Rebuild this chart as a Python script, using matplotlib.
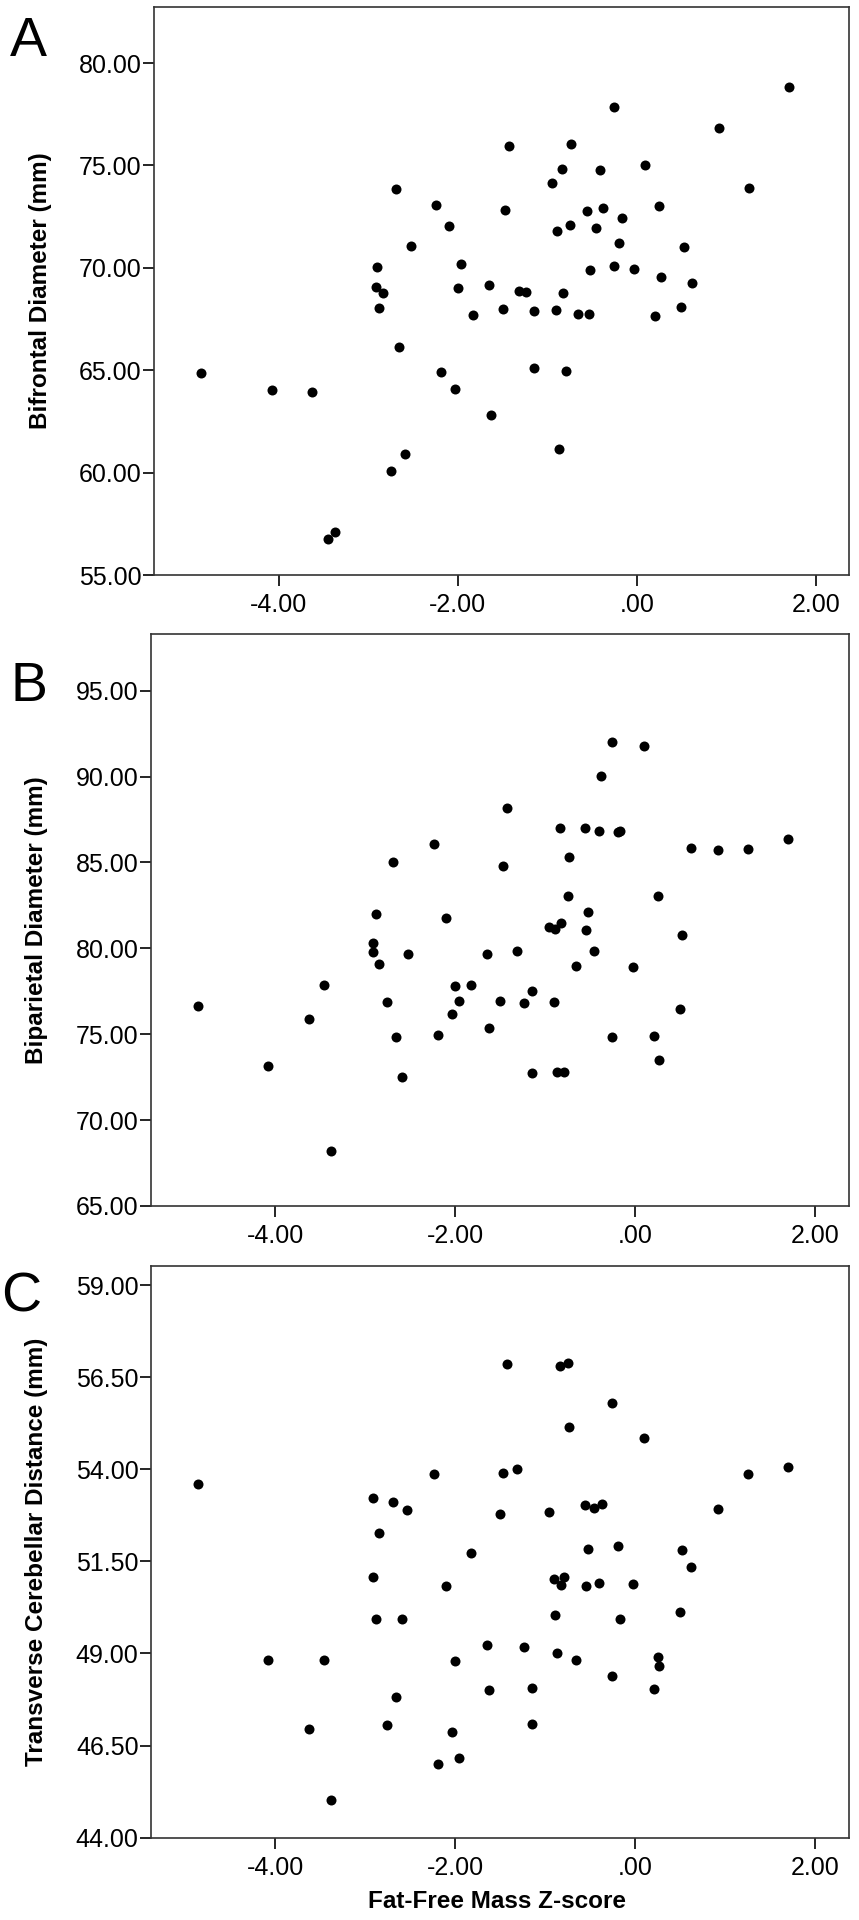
import matplotlib
matplotlib.use("Agg")
from matplotlib import pyplot as plt

plt.rcParams['font.family'] = ['Liberation Sans', 'DejaVu Sans']

# Panel A: fat-free mass z-score vs bifrontal diameter
a_x = [-2.693, -2.525, -2.905, -2.916, -2.838, -2.879, 1.702, -0.257, 0.923, -1.423,
       -0.737, -0.831, -0.410, 0.096, -0.950, 1.258, -2.242, -1.472, -0.555, -0.377,
       -0.168, 0.253, -2.097, -0.894, -0.745, -0.458, -0.194, 0.525, -1.963, -0.525,
       -0.257, -0.027, 0.268, 0.618, -2.000, -1.647, -1.312, -1.237, -0.827, -1.826,
       -1.497, -1.147, -0.902, -0.653, -0.536, 0.208, 0.495, -2.659, -4.860, -4.075,
       -3.628, -2.592, -2.745, -3.453, -3.374, -2.183, -2.030, -1.151, -0.790, -1.628,
       -0.865]
a_y = [73.83, 71.06, 70.04, 69.05, 68.77, 68.02, 78.84, 77.85, 76.81, 75.96,
       76.06, 74.82, 74.79, 75.03, 74.14, 73.88, 73.05, 72.81, 72.79, 72.93,
       72.43, 73.00, 72.04, 71.80, 72.10, 71.93, 71.20, 71.00, 70.17, 69.89,
       70.10, 69.94, 69.55, 69.26, 69.01, 69.17, 68.88, 68.80, 68.75, 67.68,
       67.99, 67.88, 67.95, 67.76, 67.76, 67.65, 68.07, 66.15, 64.88, 64.03,
       63.92, 60.91, 60.08, 56.77, 57.08, 64.93, 64.08, 65.09, 64.98, 62.83,
       61.14]

# Panel B: biparietal diameter
b_x = [-2.692, -2.884, -2.914, -2.907, -2.528, -0.256, 0.100, -0.374, -1.419, -0.830,
       -0.552, -0.404, -0.189, -0.162, 1.706, -2.239, 0.620, 0.928, 1.261, -0.734,
       -1.472, -0.745, 0.256, -2.098, -0.523, -0.960, -0.893, -0.823, -0.541, 0.527,
       -1.642, -1.308, -0.456, -2.843, -3.459, -4.861, -3.626, -2.751, -2.662, -4.075,
       -2.592, -3.377, -0.652, -0.026, -2.002, -1.824, -1.958, -1.497, -1.146, -1.238,
       -0.897, -2.031, 0.497, -2.184, -1.624, -0.256, 0.208, 0.271, -1.149, -0.868,
       -0.785]
b_y = [85.02, 82.00, 80.33, 79.78, 79.67, 92.03, 91.79, 90.01, 88.17, 87.02,
       87.02, 86.85, 86.79, 86.85, 86.34, 86.07, 85.86, 85.70, 85.80, 85.31,
       84.79, 83.04, 83.03, 81.78, 82.10, 81.24, 81.12, 81.46, 81.07, 80.76,
       79.67, 79.83, 79.84, 79.10, 77.85, 76.66, 75.88, 76.89, 74.85, 73.15,
       72.51, 68.18, 78.97, 78.89, 77.81, 77.88, 76.95, 76.95, 77.53, 76.82,
       76.86, 76.18, 76.47, 74.95, 75.34, 74.85, 74.88, 73.48, 72.72, 72.80,
       72.80]

# Panel C: transverse cerebellar distance
c_x = [-4.857, -2.907, -2.695, -2.532, -2.843, -2.914, -1.419, -0.830, -0.745, -0.256,
       -0.734, 0.100, -2.239, -1.472, -1.308, 1.261, 1.706, -1.497, -0.952, -0.552,
       -0.459, -0.370, 0.928, -1.824, -0.526, -0.192, 0.527, 0.620, -2.098, -0.901,
       -0.785, -0.823, -0.541, -0.404, -0.026, -2.884, -2.592, -4.078, -3.459, -2.662,
       -3.626, -2.751, -3.377, -0.893, -0.167, 0.497, -1.642, -1.238, -0.863, -0.652,
       -2.002, 0.256, 0.271, -0.256, -1.624, -1.146, 0.208, -1.149, -2.031, -1.958,
       -2.184]
c_y = [53.59, 53.22, 53.11, 52.90, 52.27, 51.09, 56.87, 56.80, 56.89, 55.81,
       55.15, 54.84, 53.87, 53.90, 54.00, 53.87, 54.07, 52.79, 52.85, 53.02,
       52.95, 53.06, 52.91, 51.73, 51.85, 51.93, 51.80, 51.36, 50.82, 51.02,
       51.08, 50.85, 50.84, 50.92, 50.88, 49.94, 49.94, 48.83, 48.82, 47.83,
       46.96, 47.05, 45.01, 50.05, 49.94, 50.13, 49.22, 49.18, 49.02, 48.83,
       48.79, 48.91, 48.66, 48.38, 48.01, 48.05, 48.04, 47.09, 46.86, 46.16,
       46.01]

x_ticks = [-4, -2, 0, 2]
x_labels = ["-4.00", "-2.00", ".00", "2.00"]

panels = [
    ("A", a_x, a_y, "Bifrontal Diameter (mm)", [55, 60, 65, 70, 75, 80], (55, 82.73),
     [0.1793, 0.7005, 0.8091, 0.2958], (-5.39, 2.37), -0.147, (0.033, 0.978)),
    ("B", b_x, b_y, "Biparietal Diameter (mm)", [65, 70, 75, 80, 85, 90, 95], (65, 98.3),
     [0.1758, 0.3719, 0.8126, 0.2979], (-5.38, 2.38), -0.148, (0.034, 0.642)),
    ("C", c_x, c_y, "Transverse Cerebellar Distance (mm)", [44, 46.5, 49, 51.5, 54, 56.5, 59],
     (44, 59.53), [0.1758, 0.0429, 0.8126, 0.2979], (-5.38, 2.38), -0.147, (0.025, 0.324)),
]

fig = plt.figure(figsize=(8.59, 19.2), dpi=100)

for letter, xs, ys, ylab, yticks, ylim, rect, xlim, ylab_x, letter_pos in panels:
    ax = fig.add_axes(rect)
    ax.plot(xs, ys, "o", color="black", markersize=7.2, markeredgewidth=0)
    ax.set_xlim(*xlim)
    ax.set_ylim(*ylim)
    ax.set_xticks(x_ticks)
    ax.set_xticklabels(x_labels)
    ax.set_yticks(yticks)
    ax.set_yticklabels(["%.2f" % v for v in yticks])
    ax.tick_params(direction="out", length=8, width=1.2, labelsize=18, colors="black")
    ax.tick_params(axis="y", pad=1)
    ax.tick_params(axis="x", pad=5)
    for s in ax.spines.values():
        s.set_linewidth(1.2)
        s.set_color("#333333")
    ax.set_ylabel(ylab, fontsize=17.5, fontweight="bold")
    ax.yaxis.set_label_coords(ylab_x, 0.5)
    fig.text(letter_pos[0], letter_pos[1], letter, fontsize=40, ha="center", va="center")
    if letter == "C":
        ax.set_xlabel("Fat-Free Mass Z-score", fontsize=17.5, fontweight="bold")
        ax.xaxis.set_label_coords(0.496, -0.112)
        ax.xaxis.label.set_va("center")

fig.savefig("out.png", dpi=100)
